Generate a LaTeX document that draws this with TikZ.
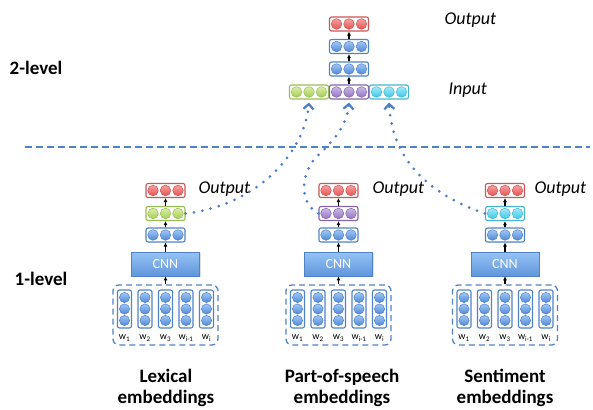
\documentclass[tikz,border=0pt]{standalone}
\usepackage{fontspec}
\setmainfont{Carlito}
\usetikzlibrary{arrows.meta,shadows}
\definecolor{bluetop}{RGB}{160,200,245}
\definecolor{bluebot}{RGB}{80,135,215}
\definecolor{blueline}{RGB}{80,130,200}
\definecolor{redtop}{RGB}{250,160,160}
\definecolor{redbot}{RGB}{225,85,85}
\definecolor{redline}{RGB}{205,85,85}
\definecolor{greentop}{RGB}{220,238,165}
\definecolor{greenbot}{RGB}{165,205,85}
\definecolor{greenline}{RGB}{150,190,85}
\definecolor{purpletop}{RGB}{205,185,230}
\definecolor{purplebot}{RGB}{145,115,195}
\definecolor{purpleline}{RGB}{130,100,170}
\definecolor{cyantop}{RGB}{160,235,250}
\definecolor{cyanbot}{RGB}{60,200,230}
\definecolor{cyanline}{RGB}{70,180,210}
\definecolor{cnntop}{RGB}{150,195,245}
\definecolor{cnnbot}{RGB}{95,150,220}
\definecolor{dotblue}{RGB}{75,125,200}
\tikzset{
  layerbox/.style={draw, fill=white, rounded corners=2pt, line width=1.1pt, minimum width=39pt, minimum height=14pt, inner sep=0pt},
  colbox/.style={draw=blueline, fill=white, rounded corners=2pt, line width=1.1pt, minimum width=14pt, minimum height=38pt, inner sep=0pt},
  cnnbox/.style={draw=blueline, top color=cnntop, bottom color=cnnbot, line width=0.6pt, minimum width=68pt, minimum height=24pt, inner sep=0pt, text=white, font=\fontsize{14}{14}\selectfont, drop shadow={opacity=0.25, shadow xshift=1pt, shadow yshift=-1pt}},
  inbox/.style={draw=blueline, dash pattern=on 6pt off 4pt, line width=1.3pt, rounded corners=6pt, minimum width=105pt, minimum height=60pt, inner sep=0pt},
  blkarrow/.style={-{Latex[length=4pt,width=4pt]}, line width=1.5pt, black},
  dotconn/.style={dotblue, line width=3pt, line cap=round, dash pattern=on 0pt off 8.5pt, -{Straight Barb[length=5pt,width=10pt,line width=2.2pt]}},
  sepline/.style={blueline, line width=2pt, dash pattern=on 7pt off 4pt},
  biglabel/.style={font=\fontsize{19}{21}\selectfont\bfseries, align=center},
  itlabel/.style={font=\fontsize{18}{20}\selectfont\itshape, anchor=west},
  wlabel/.style={font=\fontsize{10}{10}\selectfont, inner sep=0pt}
}
\newcommand\mylayer[4]{%
  \node[layerbox, draw=#4line] (#1) at (#2,#3) {};
  \foreach \dx in {-12.5,0,12.5}
    \shadedraw[top color=#4top, bottom color=#4bot, draw=#4line, line width=0.5pt] ([xshift=\dx pt]#1.center) circle[radius=5.3pt];
}
\newcommand\mycol[3]{%
  \node[colbox] (#1) at (#2,#3) {};
  \foreach \dy in {-11.5,0,11.5}
    \shadedraw[top color=bluetop, bottom color=bluebot, draw=blueline, line width=0.5pt] ([yshift=\dy pt]#1.center) circle[radius=5.1pt];
}
\newcommand\mymodule[3]{% prefix, cx, midcolor
  \mylayer{#1-red}{#2}{190.5}{red}
  \mylayer{#1-mid}{#2}{213.5}{#3}
  \mylayer{#1-blue}{#2}{235}{blue}
  \node[cnnbox] (#1-cnn) at (#2,264) {CNN};
  \node[inbox] (#1-in) at (#2,315) {};
  \mycol{#1-c1}{#2-41}{309}
  \mycol{#1-c2}{#2-20.5}{309}
  \mycol{#1-c3}{#2}{309}
  \mycol{#1-c4}{#2+20.5}{309}
  \mycol{#1-c5}{#2+41}{309}
  \node[wlabel] (#1-w1) at (#2-41,338) {w\textsubscript{1}};
  \node[wlabel] (#1-w2) at (#2-20.5,338) {w\textsubscript{2}};
  \node[wlabel] (#1-w3) at (#2,338) {w\textsubscript{3}};
  \node[wlabel] (#1-w4) at (#2+20.5,338) {w\textsubscript{i-1}};
  \node[wlabel] (#1-w5) at (#2+41,338) {w\textsubscript{i}};
  \draw[blkarrow] (#1-in.north) -- (#1-cnn.south);
  \draw[blkarrow] (#1-cnn.north) -- (#1-blue.south);
  \draw[blkarrow] (#1-blue.north) -- (#1-mid.south);
  \draw[blkarrow] (#1-mid.north) -- (#1-red.south);
}
\begin{document}
\begin{tikzpicture}[x=1pt,y=-1pt]
\useasboundingbox (0,0) rectangle (593,409);
% top network
\mylayer{T-red}{349}{24}{red}
\mylayer{T-b2}{349}{46.5}{blue}
\mylayer{T-b1}{349}{69}{blue}
\mylayer{T-g}{309}{92}{green}
\mylayer{T-p}{349}{92}{purple}
\mylayer{T-c}{389}{92}{cyan}
\draw[blkarrow] (T-p.north) -- (T-b1.south);
\draw[blkarrow] (T-b1.north) -- (T-b2.south);
\draw[blkarrow] (T-b2.north) -- (T-red.south);
\node[itlabel] (outT) at (441,20) {Output};
\node[itlabel] (inT) at (445,90) {Input};
\node[biglabel] (lv2) at (36,68) {2-level};
\node[biglabel] (lv1) at (41,279) {1-level};
% separator
\coordinate (sepL) at (25,147);
\coordinate (sepR) at (590,147);
\draw[sepline] (sepL) -- (sepR);
% modules
\mymodule{L}{165.5}{green}
\mymodule{M}{338.5}{purple}
\mymodule{R}{505}{cyan}
\node[itlabel] (outL) at (195,189) {Output};
\node[itlabel] (outM) at (369,189) {Output};
\node[itlabel] (outR) at (531,189) {Output};
\node[biglabel] (labL) at (166,388) {Lexical\\embeddings};
\node[biglabel] (labM) at (342,388) {Part-of-speech\\embeddings};
\node[biglabel] (labR) at (505,388) {Sentiment\\embeddings};
% dotted connectors
\draw[dotconn] (L-mid.east) .. controls (260,205) and (305,150) .. ([yshift=-3pt]T-g.south);
\draw[dotconn] (M-mid.west) .. controls (302,205) and (298,180) .. (315,158) .. controls (335,140) and (347,125) .. ([yshift=-3pt]T-p.south);
\draw[dotconn] (R-mid.west) .. controls (430,195) and (392,160) .. ([yshift=-3pt]T-c.south);
\end{tikzpicture}
\end{document}
